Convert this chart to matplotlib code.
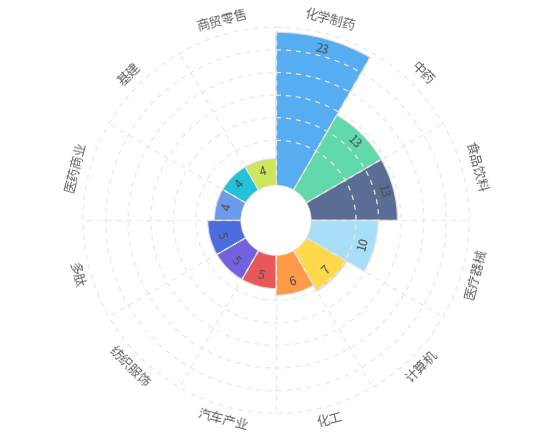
import numpy as np
import matplotlib
matplotlib.use("Agg")
import matplotlib.pyplot as plt

plt.rcParams['font.family'] = ['Noto Sans CJK SC', 'DejaVu Sans']

# data
categories = ['化学制药', '中药', '食品饮料', '医疗器械', '计算机', '化工',
              '汽车产业', '纺织服饰', '多肽', '医药商业', '基建', '商贸零售']
values = [23, 13, 13, 10, 7, 6, 5, 5, 5, 4, 4, 4]
colors = ['#56ADF2', '#62D9AB', '#596D95', '#A8DEF8', '#FFD84B', '#FF9A48',
          '#E85858', '#7262E0', '#4A6DE0', '#6B9BEA', '#22C2DA', '#CDE65A']

# pixel geometry of the chart (radii in px)
W, H = 548, 445
cx, cy = 276, 220.3
px_per_unit = 153 / 23.0
hole_px = 35
ax_px = 220
ring_px = [80, 102.6, 125.2, 147.8, 170.4, 193]

def to_val(px):
    return (px - hole_px) / px_per_unit

fig = plt.figure(figsize=(W / 100, H / 100), dpi=100)
ax = fig.add_axes([(cx - ax_px) / W, (H - cy - ax_px) / H, 2 * ax_px / W, 2 * ax_px / H],
                  projection='polar')
ax.set_theta_zero_location('N')
ax.set_theta_direction(-1)
ax.set_ylim(0, to_val(ax_px))
ax.set_rorigin(-hole_px / px_per_unit)
ax.axis('off')

n = len(categories)
step = 2 * np.pi / n
theta = np.arange(n) * step + step / 2

ax.bar(theta, values, width=step, bottom=0, color=colors,
       edgecolor='#dcdcdc', linewidth=0.8, zorder=2)

# dashed grid drawn over the bars
tt = np.linspace(0, 2 * np.pi, 400)
for rp in ring_px:
    ax.plot(tt, np.full_like(tt, to_val(rp)), color='#e8e8e8', lw=0.9,
            ls=(0, (4, 4)), zorder=3)
for k in range(n):
    a = k * step
    ax.plot([a, a], [0, to_val(ring_px[-1])], color='#e8e8e8', lw=0.9,
            ls=(0, (4, 4)), zorder=3)

def rot_for(t):
    deg = np.degrees(t)
    return ((-deg + 90) % 180) - 90

# value labels inside bars
for t, v in zip(theta, values):
    ax.text(t, v - 11 / px_per_unit, str(v), rotation=rot_for(t),
            rotation_mode='anchor', ha='center', va='center',
            fontsize=8.8, color='#4d4d4d', zorder=4)

# category labels around
for t, c in zip(theta, categories):
    ax.text(t, to_val(207), c, rotation=rot_for(t), rotation_mode='anchor',
            ha='center', va='center', fontsize=9.4, color='#666666', zorder=4)

fig.savefig('out.png', dpi=100)
